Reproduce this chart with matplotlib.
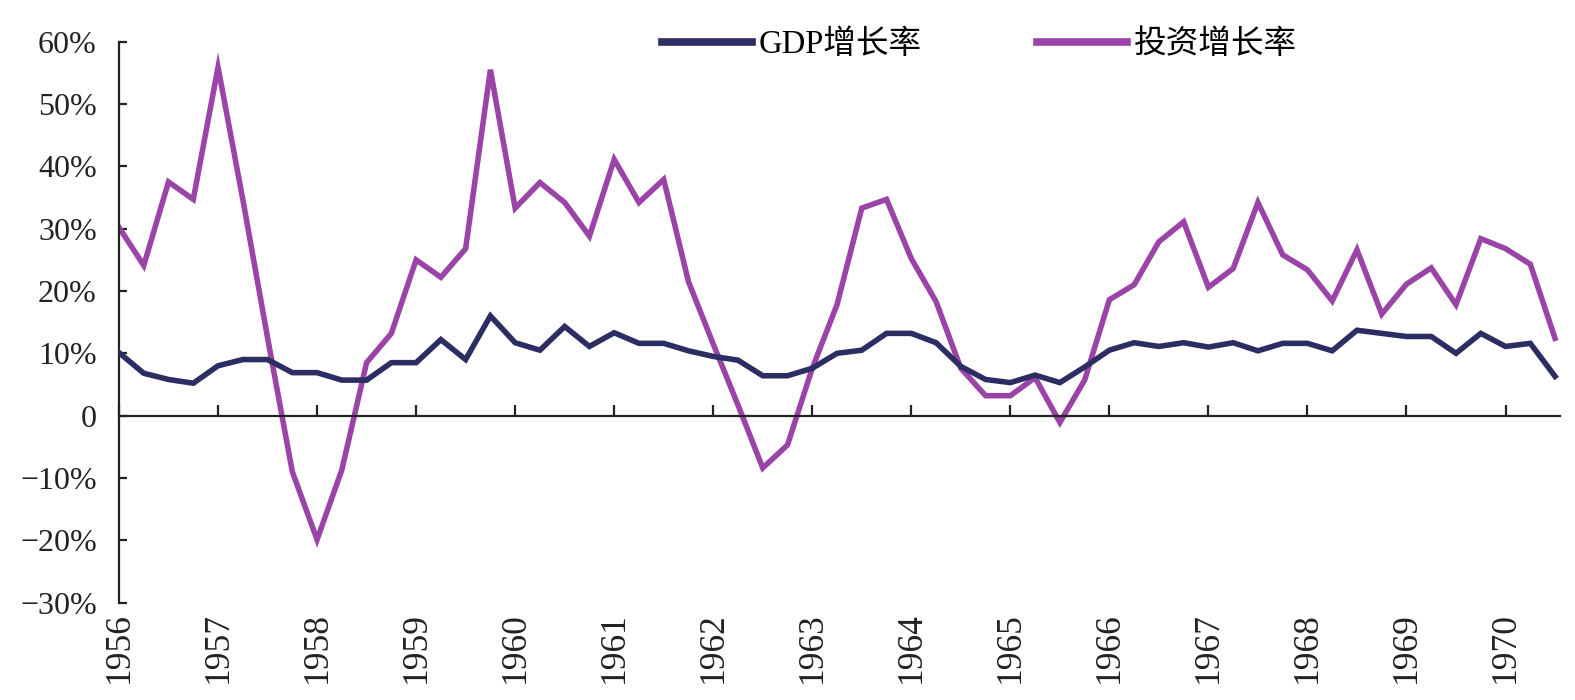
import matplotlib
matplotlib.use("Agg")
import matplotlib.pyplot as plt

years = [str(y) for y in range(1956, 1971)]
quarters = [f"{y}Q{q}" for y in range(1956, 1971) for q in range(1, 5)][:59]

gdp_growth = [10.1, 6.8, 5.8, 5.2, 8.0, 9.0, 9.0, 6.9, 6.9, 5.7,
              5.7, 8.5, 8.5, 12.2, 9.0, 16.0, 11.7, 10.5, 14.3, 11.1,
              13.3, 11.6, 11.6, 10.4, 9.5, 8.9, 6.4, 6.4, 7.6, 10.0,
              10.5, 13.2, 13.2, 11.7, 7.9, 5.8, 5.3, 6.5, 5.3, 7.8,
              10.5, 11.7, 11.1, 11.7, 11.0, 11.7, 10.4, 11.6, 11.6, 10.4,
              13.7, 13.2, 12.7, 12.7, 10.0, 13.2, 11.1, 11.6, 6.3]

inv_growth = [30.2, 24.1, 37.5, 34.7, 55.9, 34.7, 12.5, -9.0, -19.9, -8.7,
              8.5, 13.2, 25.0, 22.2, 26.8, 55.5, 33.3, 37.4, 34.2, 28.8,
              41.1, 34.2, 37.9, 21.5, 11.5, 1.7, -8.4, -4.7, 7.6, 17.8,
              33.3, 34.7, 25.2, 18.3, 7.6, 3.2, 3.2, 6.1, -1.1, 5.7,
              18.6, 21.0, 27.9, 31.1, 20.6, 23.6, 34.2, 25.8, 23.4, 18.4,
              26.6, 16.3, 21.1, 23.7, 17.8, 28.4, 26.8, 24.3, 12.4]

series_names = ["GDP增长率", "投资增长率"]
y_ticks = [-30, -20, -10, 0, 10, 20, 30, 40, 50, 60]
y_labels = ["−30%", "−20%", "−10%", "0", "10%", "20%", "30%", "40%", "50%", "60%"]

c_gdp = "#2C2E63"
c_inv = "#9B44A8"
serif = ["Liberation Serif", "Noto Sans CJK SC"]

fig = plt.figure(figsize=(15.75, 7.0), dpi=100)
ax = fig.add_axes([119 / 1575, 1 - 602.6 / 700, (1560 - 119) / 1575, (602.6 - 41.7) / 700])

x = list(range(len(quarters)))
ax.plot(x, gdp_growth, color=c_gdp, lw=4.0, solid_joinstyle="miter", label=series_names[0], zorder=3)
ax.plot(x, inv_growth, color=c_inv, lw=4.0, solid_joinstyle="miter", label=series_names[1], zorder=2)

ax.set_xlim(0, 58.2)
ax.set_ylim(-30, 60)

for s in ["top", "right"]:
    ax.spines[s].set_visible(False)
ax.spines["bottom"].set_position(("data", 0))
for s in ["left", "bottom"]:
    ax.spines[s].set_linewidth(1.6)
    ax.spines[s].set_color("#222222")

ax.set_yticks(y_ticks)
ax.set_yticklabels(y_labels, fontfamily=serif, fontsize=23, color="#222222")
ax.tick_params(axis="y", direction="in", length=6, width=1.6, color="#222222", pad=16)

year_pos = [4 * i for i in range(len(years))]
ax.set_xticks(year_pos)
ax.tick_params(axis="x", direction="in", length=8, width=1.6, color="#222222", labelbottom=False)

sec = ax.secondary_xaxis("bottom")
sec.set_xticks(year_pos)
sec.set_xticklabels(years, fontfamily=serif, fontsize=25.5, color="#222222", rotation=90)
sec.spines["bottom"].set_visible(False)
sec.tick_params(axis="x", length=0, pad=7)

fig.legend(loc="center left", bbox_to_anchor=(662 / 1575, 1 - 45 / 700), ncol=2, frameon=False,
           prop={"family": serif, "size": 23.5}, handlelength=2.75, handletextpad=0.2,
           columnspacing=3.55, borderpad=0, borderaxespad=0)
for line in fig.legends[0].get_lines():
    line.set_linewidth(5.5)

fig.savefig("out.png", dpi=100)
